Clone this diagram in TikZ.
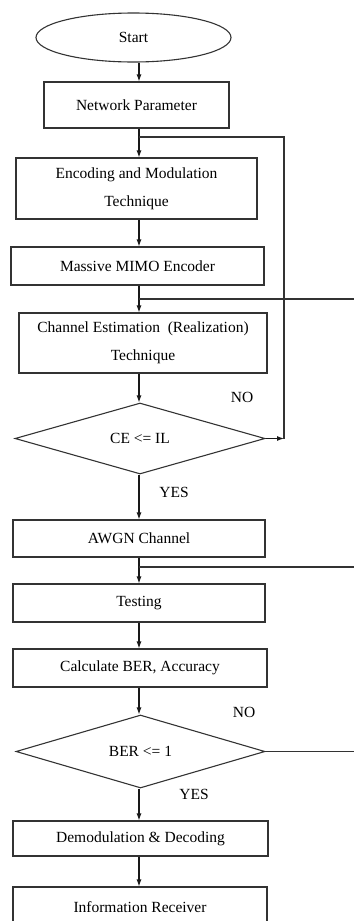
\documentclass[tikz,border=0pt]{standalone}
\usepackage{fontspec}
\setmainfont{Liberation Serif}
\usetikzlibrary{shapes.geometric,arrows.meta}
\tikzstyle{every path}=[line width=1.1pt]
\tikzstyle{every node}=[font=\fontsize{15.5}{28}\selectfont]
\tikzstyle{block}=[draw=black!80, rectangle, inner sep=0pt, align=center]
\tikzstyle{decision}=[draw=black!80, diamond, aspect=3.5, inner sep=0pt]
\tikzstyle{terminal}=[draw=black!80, ellipse, inner sep=0pt]
\tikzstyle{arr}=[draw=black!90, -{Latex[length=7pt,width=5pt]}]
\tikzstyle{wire}=[draw=black!80]

\begin{document}
\begin{tikzpicture}[x=1pt,y=-1pt]
            \useasboundingbox (0,0) rectangle (354,921);
            \coordinate (ax) at (139,0);

            \node[terminal, minimum width=195pt, minimum height=49pt] (start) at (133.5,37.5) {Start};
            \node[block, minimum width=185pt, minimum height=46pt] (net) at (136.5,105) {Network Parameter};
            \node[block, minimum width=241pt, minimum height=61pt] (enc) at (136.5,188.5)
                {Encoding and Modulation\\Technique};
            \node[block, minimum width=253pt, minimum height=38pt] (mimo) at (137.5,266) {Massive MIMO Encoder};
            \node[block, minimum width=248pt, minimum height=60pt] (ce) at (143,343)
                {Channel Estimation~ (Realization)\\Technique};
            \node[decision, minimum width=250pt, minimum height=71pt] (d1) at (140,438.5) {CE <= IL};
            \node[block, minimum width=252pt, minimum height=37pt] (awgn) at (139,538.5) {AWGN Channel};
            \node[block, minimum width=252pt, minimum height=38pt] (test) at (139,603) {Testing};
            \node[block, minimum width=254pt, minimum height=38pt] (calc) at (140,668) {Calculate BER, Accuracy};
            \node[decision, minimum width=249pt, minimum height=73pt] (d2) at (140.5,751.5) {BER <= 1};
            \node[block, minimum width=255pt, minimum height=35pt] (demod) at (140.5,838.5) {Demodulation \& Decoding};
            \node[block, minimum width=254pt, minimum height=40pt] (info) at (140,907) {Information Receiver};

            \node (no1) at (242,397) {NO};
            \node (yes1) at (174,492) {YES};
            \node (no2) at (244,712) {NO};
            \node (yes2) at (194,794) {YES};

            \draw[arr] (start.south -| ax) -- (net.north -| ax);
            \draw[arr] (net.south -| ax) -- (enc.north -| ax);
            \draw[arr] (enc.south -| ax) -- (mimo.north -| ax);
            \draw[arr] (mimo.south -| ax) -- (ce.north -| ax);
            \draw[arr] (ce.south -| ax) -- (d1.north -| ax);
            \draw[arr] (d1.south -| ax) -- (awgn.north -| ax);
            \draw[arr] (awgn.south -| ax) -- (test.north -| ax);
            \draw[arr] (test.south -| ax) -- (calc.north -| ax);
            \draw[arr] (calc.south -| ax) -- (d2.north -| ax);
            \draw[arr] (d2.south -| ax) -- (demod.north -| ax);
            \draw[arr] (demod.south -| ax) -- (info.north -| ax);

            \coordinate (up1) at (139,137);
            \coordinate (rt1) at (284,438.5);
            \draw[arr] (d1.east) -- (rt1);
            \draw[wire] (rt1) |- (up1);

            \coordinate (j2) at (139,299);
            \coordinate (e2) at (354,299);
            \draw[wire] (j2) -- (e2);
            \coordinate (j3) at (139,567);
            \coordinate (e3) at (354,567);
            \draw[wire] (j3) -- (e3);
            \coordinate (e4) at (354,751.5);
            \draw[wire] (d2.east) -- (e4);
        \end{tikzpicture}
\end{document}
